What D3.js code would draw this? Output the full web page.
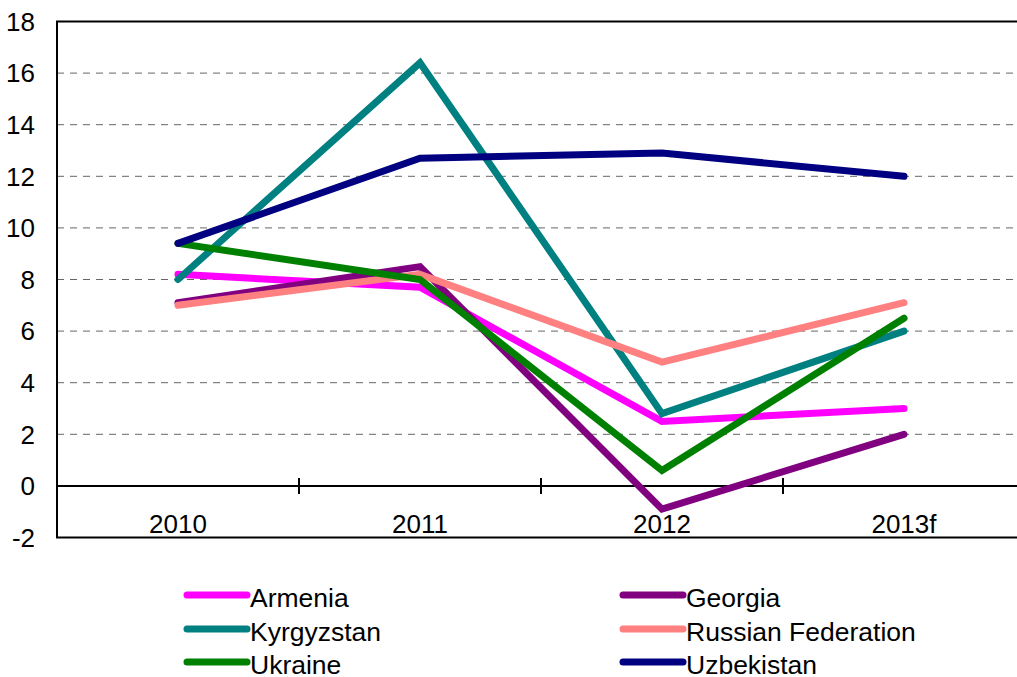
<!DOCTYPE html>
<html>
<head>
<meta charset="utf-8">
<script src="https://cdn.jsdelivr.net/npm/d3@7"></script>
<style>
  html, body { margin: 0; padding: 0; background: #fff; }
  svg { display: block; font-family: "Liberation Sans", Arial, sans-serif; }
</style>
</head>
<body>
<svg id="chart" width="1017" height="677"></svg>
<script>
// Real GDP growth, % (2013 forecast)
const years = ["2010", "2011", "2012", "2013f"];
const yTicks = [-2, 0, 2, 4, 6, 8, 10, 12, 14, 16, 18];

const armenia    = [8.2, 7.7, 2.5, 3.0];
const georgia    = [7.1, 8.5, -0.9, 2.0];
const kyrgyzstan = [8.0, 16.4, 2.8, 6.0];
const russia     = [7.0, 8.2, 4.8, 7.1];
const ukraine    = [9.4, 8.0, 0.6, 6.5];
const uzbekistan = [9.4, 12.7, 12.9, 12.0];

const seriesNames  = ["Armenia", "Georgia", "Kyrgyzstan", "Russian Federation", "Ukraine", "Uzbekistan"];
const seriesValues = [armenia, georgia, kyrgyzstan, russia, ukraine, uzbekistan];
const seriesColors = ["#FF00FF", "#800080", "#008080", "#FF8080", "#008000", "#000080"];

const svg = d3.select("#chart");
const plotLeft = 57, plotRight = 1025, plotTop = 21.5, plotBottom = 537.5;

const x = d3.scaleBand().domain(years).range([plotLeft, plotRight]).paddingInner(0).paddingOuter(0);
const y = d3.scaleLinear().domain([-2, 18]).range([plotBottom, plotTop]);

// dashed gridlines
svg.append("g")
  .selectAll("line")
  .data(yTicks.filter(t => t !== 0 && t !== 18 && t !== -2))
  .join("line")
  .attr("x1", plotLeft).attr("x2", 1017)
  .attr("y1", d => y(d)).attr("y2", d => y(d))
  .attr("stroke", "#666")
  .attr("stroke-width", 1)
  .attr("stroke-dasharray", "7,6");

// plot frame (top, left, bottom)
svg.append("path")
  .attr("d", `M1017,${plotTop}H${plotLeft}V${plotBottom}H1017`)
  .attr("fill", "none")
  .attr("stroke", "#000")
  .attr("stroke-width", 2);

// y tick labels
svg.append("g")
  .selectAll("text")
  .data(yTicks)
  .join("text")
  .attr("x", 35)
  .attr("y", d => y(d))
  .attr("dy", "0.36em")
  .attr("text-anchor", "end")
  .attr("font-size", 26)
  .attr("fill", "#000")
  .text(d => d);

// category axis at zero with crossing ticks between categories
const axis0 = svg.append("g");
axis0.append("line")
  .attr("x1", plotLeft).attr("x2", 1017)
  .attr("y1", y(0)).attr("y2", y(0))
  .attr("stroke", "#000").attr("stroke-width", 2);
axis0.selectAll("line.tick")
  .data(years.slice(1))
  .join("line")
  .attr("class", "tick")
  .attr("x1", d => x(d)).attr("x2", d => x(d))
  .attr("y1", y(0) - 8).attr("y2", y(0) + 8)
  .attr("stroke", "#000").attr("stroke-width", 2);

// category labels
svg.append("g")
  .selectAll("text")
  .data(years)
  .join("text")
  .attr("x", d => x(d) + x.bandwidth() / 2)
  .attr("y", 533)
  .attr("text-anchor", "middle")
  .attr("font-size", 26)
  .attr("fill", "#000")
  .text(d => d);

// series lines
const line = d3.line()
  .x((d, i) => x(years[i]) + x.bandwidth() / 2)
  .y(d => y(d));

svg.append("g")
  .selectAll("path")
  .data(seriesValues)
  .join("path")
  .attr("d", d => line(d))
  .attr("fill", "none")
  .attr("stroke", (d, i) => seriesColors[i])
  .attr("stroke-width", 7)
  .attr("stroke-linecap", "round")
  .attr("stroke-linejoin", "miter");

// legend, two columns
const legend = svg.append("g");
const colX = [187, 623];
const rowY = [595, 629, 662];
seriesNames.forEach((name, i) => {
  const cx = colX[i % 2], cy = rowY[Math.floor(i / 2)];
  legend.append("line")
    .attr("x1", cx).attr("x2", cx + 60)
    .attr("y1", cy).attr("y2", cy)
    .attr("stroke", seriesColors[i])
    .attr("stroke-width", 7)
    .attr("stroke-linecap", "round");
  legend.append("text")
    .attr("x", cx + 63)
    .attr("y", cy + 12)
    .attr("font-size", 26.5)
    .attr("fill", "#000")
    .text(name);
});
</script>
</body>
</html>
